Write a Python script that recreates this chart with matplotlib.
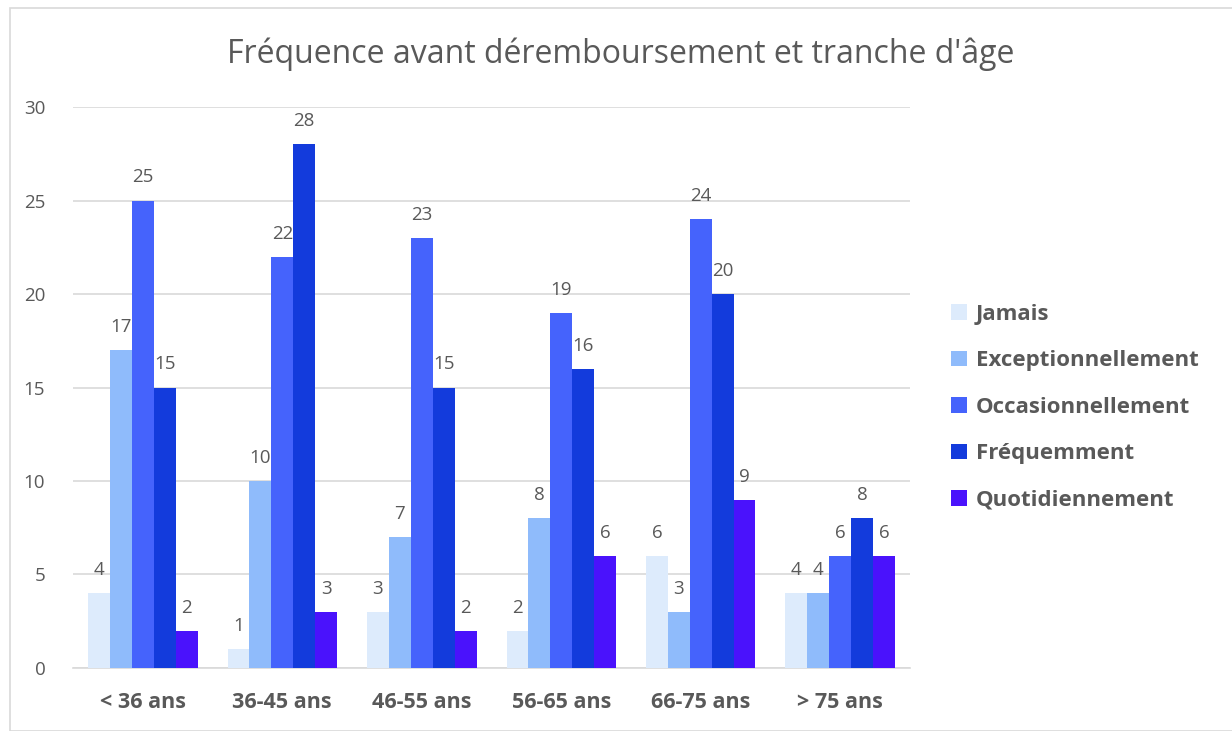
import numpy as np
import matplotlib.pyplot as plt
from matplotlib.patches import Rectangle

categories = ["< 36 ans", "36-45 ans", "46-55 ans", "56-65 ans", "66-75 ans", "> 75 ans"]
series_names = ["Jamais", "Exceptionnellement", "Occasionnellement", "Fréquemment", "Quotidiennement"]
jamais = [4, 1, 3, 2, 6, 4]
exceptionnellement = [17, 10, 7, 8, 3, 4]
occasionnellement = [25, 22, 23, 19, 24, 6]
frequemment = [15, 28, 15, 16, 20, 8]
quotidiennement = [2, 3, 2, 6, 9, 6]
series = [jamais, exceptionnellement, occasionnellement, frequemment, quotidiennement]
colors = ["#DDEBFC", "#8FBBFB", "#4563FC", "#133BDC", "#4A12FC"]

plt.rcParams['font.family'] = ['Open Sans', 'DejaVu Sans']
txt = "#595959"

fig = plt.figure(figsize=(12.32, 7.31), dpi=100)
ax = fig.add_axes([0.0593, 0.0862, 0.7386 - 0.0593, 0.8536 - 0.0862])

x = np.arange(len(categories))
w = 0.157
for i, (vals, name, col) in enumerate(zip(series, series_names, colors)):
    pos = x + (i - 2) * w
    ax.bar(pos, vals, width=w, color=col, label=name, zorder=3)
    for px, v in zip(pos, vals):
        ax.text(px, v + 0.75, str(v), ha="center", va="bottom", fontsize=13.5, color=txt)

ax.set_xlim(-0.5, len(categories) - 0.5)
ax.set_ylim(0, 30)
ax.set_yticks(range(0, 31, 5))
ax.yaxis.grid(True, color="#D9D9D9", linewidth=1.2, zorder=0)
for s in ["top", "right", "left"]:
    ax.spines[s].set_visible(False)
ax.spines["bottom"].set_color("#D9D9D9")
ax.spines["bottom"].set_linewidth(1.2)
ax.tick_params(axis="y", length=0, labelsize=13.5, labelcolor=txt, pad=20)
ax.tick_params(axis="x", length=0, labelsize=15.5, labelcolor=txt, pad=17)
ax.set_xticks(x)
ax.set_xticklabels(categories, fontweight="bold")

fig.text(0.504, 0.926, "Fréquence avant déremboursement et tranche d'âge",
         ha="center", va="center", fontsize=23, color=txt)

leg = fig.legend(loc="center left", bbox_to_anchor=(0.756, 0.443), frameon=False,
                 fontsize=16, handlelength=0.7, handleheight=0.7, handletextpad=0.4,
                 labelspacing=1.15)
for t in leg.get_texts():
    t.set_color(txt)
    t.set_fontweight("bold")

fig.patches.append(Rectangle((10 / 1232, 0), 1.0, 1 - 8 / 731, transform=fig.transFigure,
                             fill=False, edgecolor="#D9D9D9", linewidth=1.2))

fig.savefig("out.png", dpi=100)
